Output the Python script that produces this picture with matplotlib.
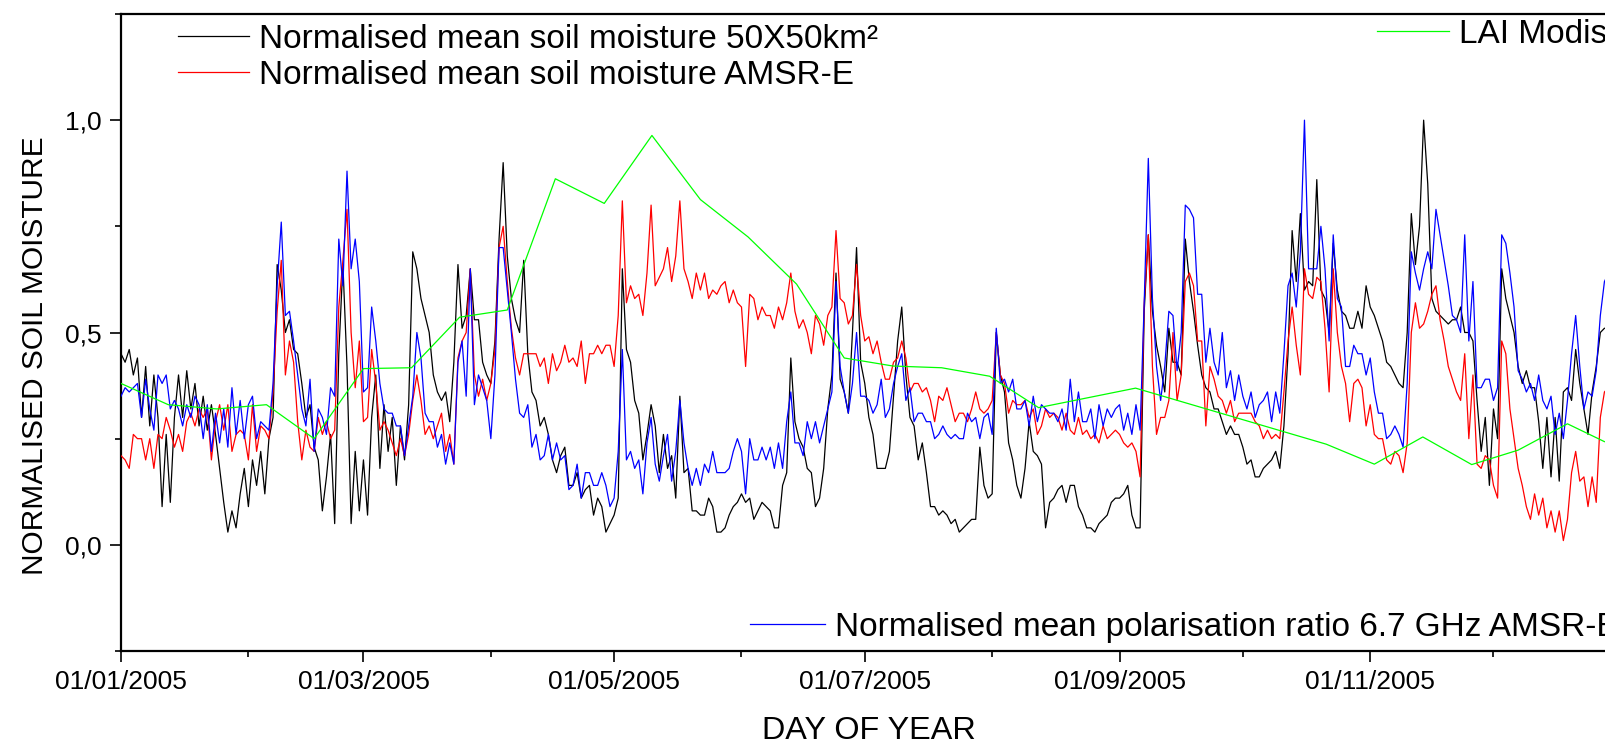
import numpy as np
import matplotlib
matplotlib.use("Agg")
import matplotlib.pyplot as plt
import matplotlib.dates as mdates
from matplotlib.lines import Line2D
from matplotlib.ticker import FixedLocator, FixedFormatter, MultipleLocator

plt.rcParams["font.family"] = ["Liberation Sans", "DejaVu Sans"]

START = np.datetime64("2005-01-01")

# normalised mean soil moisture 50x50 km, daily values from 01/01/2005
sm_50km = [
    0.45, 0.43, 0.46, 0.40, 0.44, 0.30, 0.42, 0.28, 0.40, 0.30,
    0.09, 0.26, 0.10, 0.30, 0.40, 0.30, 0.41, 0.32, 0.38, 0.28,
    0.35, 0.27, 0.33, 0.26, 0.18, 0.10, 0.03, 0.08, 0.04, 0.12,
    0.18, 0.09, 0.20, 0.14, 0.22, 0.12, 0.25, 0.30, 0.66, 0.60,
    0.50, 0.53, 0.46, 0.45, 0.38, 0.30, 0.33, 0.23, 0.20, 0.08,
    0.16, 0.26, 0.05, 0.45, 0.66, 0.42, 0.05, 0.22, 0.08, 0.20,
    0.07, 0.30, 0.40, 0.18, 0.33, 0.22, 0.30, 0.14, 0.28, 0.20,
    0.33, 0.69, 0.65, 0.58, 0.54, 0.50, 0.40, 0.36, 0.34, 0.36,
    0.29, 0.43, 0.66, 0.51, 0.54, 0.65, 0.53, 0.53, 0.43, 0.40,
    0.38, 0.48, 0.72, 0.90, 0.68, 0.58, 0.53, 0.50, 0.67, 0.45,
    0.36, 0.34, 0.28, 0.30, 0.26, 0.20, 0.17, 0.21, 0.23, 0.14,
    0.14, 0.17, 0.11, 0.13, 0.14, 0.07, 0.11, 0.09, 0.03, 0.05,
    0.07, 0.11, 0.65, 0.46, 0.43, 0.34, 0.31, 0.20, 0.26, 0.33,
    0.28, 0.17, 0.26, 0.18, 0.21, 0.11, 0.35, 0.17, 0.18, 0.08,
    0.08, 0.07, 0.07, 0.11, 0.09, 0.03, 0.03, 0.04, 0.07, 0.09,
    0.10, 0.12, 0.10, 0.11, 0.06, 0.08, 0.10, 0.09, 0.08, 0.04,
    0.04, 0.14, 0.17, 0.44, 0.29, 0.25, 0.23, 0.18, 0.17, 0.09,
    0.11, 0.18, 0.32, 0.40, 0.64, 0.39, 0.36, 0.31, 0.50, 0.70,
    0.43, 0.38, 0.30, 0.26, 0.18, 0.18, 0.18, 0.22, 0.35, 0.48,
    0.56, 0.40, 0.30, 0.28, 0.20, 0.24, 0.17, 0.09, 0.09, 0.07,
    0.08, 0.07, 0.05, 0.06, 0.03, 0.04, 0.05, 0.06, 0.06, 0.23,
    0.14, 0.11, 0.12, 0.50, 0.40, 0.36, 0.24, 0.20, 0.14, 0.11,
    0.18, 0.29, 0.22, 0.21, 0.19, 0.04, 0.10, 0.11, 0.13, 0.14,
    0.10, 0.14, 0.14, 0.09, 0.07, 0.04, 0.04, 0.03, 0.05, 0.06,
    0.07, 0.10, 0.11, 0.11, 0.12, 0.14, 0.07, 0.04, 0.04, 0.55,
    0.73, 0.55, 0.47, 0.42, 0.36, 0.51, 0.43, 0.43, 0.40, 0.72,
    0.62, 0.55, 0.47, 0.40, 0.37, 0.36, 0.32, 0.32, 0.29, 0.26,
    0.28, 0.26, 0.26, 0.23, 0.19, 0.20, 0.16, 0.16, 0.18, 0.19,
    0.20, 0.22, 0.18, 0.28, 0.45, 0.74, 0.62, 0.78, 0.60, 0.62,
    0.61, 0.86, 0.60, 0.58, 0.50, 0.71, 0.60, 0.55, 0.54, 0.51,
    0.51, 0.55, 0.51, 0.61, 0.56, 0.54, 0.51, 0.48, 0.43, 0.42,
    0.40, 0.38, 0.37, 0.50, 0.78, 0.66, 0.75, 1.00, 0.85, 0.58,
    0.55, 0.54, 0.53, 0.52, 0.53, 0.53, 0.56, 0.50, 0.50, 0.48,
    0.34, 0.22, 0.30, 0.14, 0.32, 0.25, 0.65, 0.58, 0.54, 0.50,
    0.42, 0.38, 0.41, 0.37, 0.37, 0.29, 0.18, 0.30, 0.16, 0.30,
    0.15, 0.36, 0.37, 0.34, 0.46, 0.38, 0.32, 0.26, 0.36, 0.42,
    0.50, 0.51, 0.51,
]

# normalised mean soil moisture AMSR-E, daily
sm_amsre = [
    0.21, 0.20, 0.18, 0.26, 0.25, 0.25, 0.20, 0.25, 0.18, 0.26,
    0.25, 0.30, 0.27, 0.23, 0.26, 0.22, 0.29, 0.31, 0.28, 0.32,
    0.30, 0.32, 0.20, 0.29, 0.33, 0.27, 0.33, 0.22, 0.26, 0.27,
    0.26, 0.20, 0.33, 0.22, 0.28, 0.27, 0.25, 0.36, 0.55, 0.67,
    0.40, 0.48, 0.43, 0.29, 0.20, 0.27, 0.23, 0.22, 0.30, 0.26,
    0.29, 0.25, 0.27, 0.56, 0.67, 0.79, 0.50, 0.37, 0.48, 0.29,
    0.30, 0.46, 0.38, 0.27, 0.29, 0.27, 0.24, 0.21, 0.25, 0.21,
    0.26, 0.34, 0.40, 0.34, 0.26, 0.28, 0.25, 0.28, 0.31, 0.22,
    0.26, 0.19, 0.44, 0.48, 0.50, 0.65, 0.40, 0.35, 0.39, 0.34,
    0.38, 0.46, 0.70, 0.75, 0.62, 0.51, 0.44, 0.40, 0.45, 0.45,
    0.45, 0.45, 0.42, 0.44, 0.38, 0.45, 0.41, 0.43, 0.47, 0.43,
    0.44, 0.42, 0.48, 0.38, 0.45, 0.45, 0.47, 0.45, 0.47, 0.47,
    0.42, 0.54, 0.81, 0.57, 0.61, 0.58, 0.59, 0.54, 0.64, 0.80,
    0.61, 0.63, 0.65, 0.70, 0.62, 0.68, 0.81, 0.65, 0.62, 0.58,
    0.64, 0.60, 0.64, 0.58, 0.60, 0.59, 0.61, 0.62, 0.57, 0.60,
    0.57, 0.56, 0.42, 0.59, 0.58, 0.53, 0.56, 0.54, 0.54, 0.51,
    0.56, 0.53, 0.57, 0.64, 0.55, 0.51, 0.53, 0.50, 0.45, 0.54,
    0.52, 0.47, 0.54, 0.56, 0.74, 0.58, 0.57, 0.52, 0.54, 0.66,
    0.54, 0.48, 0.49, 0.45, 0.48, 0.43, 0.39, 0.39, 0.43, 0.44,
    0.48, 0.44, 0.36, 0.38, 0.38, 0.36, 0.37, 0.34, 0.29, 0.35,
    0.34, 0.37, 0.33, 0.29, 0.31, 0.31, 0.29, 0.32, 0.36, 0.32,
    0.31, 0.32, 0.34, 0.50, 0.40, 0.38, 0.31, 0.34, 0.33, 0.33,
    0.34, 0.30, 0.32, 0.26, 0.28, 0.32, 0.30, 0.31, 0.30, 0.27,
    0.31, 0.27, 0.26, 0.30, 0.26, 0.27, 0.25, 0.26, 0.24, 0.28,
    0.25, 0.26, 0.27, 0.26, 0.24, 0.23, 0.24, 0.22, 0.16, 0.57,
    0.73, 0.42, 0.26, 0.30, 0.30, 0.34, 0.50, 0.34, 0.40, 0.62,
    0.64, 0.61, 0.48, 0.48, 0.28, 0.42, 0.39, 0.35, 0.34, 0.31,
    0.34, 0.29, 0.31, 0.31, 0.31, 0.31, 0.29, 0.28, 0.25, 0.27,
    0.25, 0.26, 0.25, 0.36, 0.48, 0.56, 0.47, 0.40, 0.65, 0.59,
    0.58, 0.63, 0.62, 0.51, 0.36, 0.65, 0.50, 0.42, 0.38, 0.29,
    0.38, 0.39, 0.37, 0.28, 0.33, 0.26, 0.25, 0.25, 0.20, 0.19,
    0.22, 0.21, 0.17, 0.24, 0.50, 0.57, 0.51, 0.52, 0.55, 0.59,
    0.61, 0.53, 0.48, 0.42, 0.39, 0.36, 0.34, 0.45, 0.25, 0.40,
    0.19, 0.18, 0.21, 0.20, 0.14, 0.11, 0.48, 0.45, 0.32, 0.25,
    0.18, 0.14, 0.09, 0.06, 0.12, 0.07, 0.11, 0.04, 0.08, 0.03,
    0.08, 0.01, 0.06, 0.17, 0.22, 0.15, 0.16, 0.09, 0.16, 0.10,
    0.30, 0.36, 0.37,
]

# normalised mean polarisation ratio 6.7 GHz AMSR-E, daily
pr_amsre = [
    0.35, 0.37, 0.36, 0.37, 0.38, 0.30, 0.39, 0.32, 0.27, 0.40,
    0.38, 0.40, 0.32, 0.34, 0.32, 0.28, 0.33, 0.30, 0.35, 0.33,
    0.25, 0.33, 0.22, 0.31, 0.24, 0.32, 0.23, 0.37, 0.26, 0.34,
    0.25, 0.33, 0.35, 0.25, 0.29, 0.28, 0.27, 0.38, 0.61, 0.76,
    0.54, 0.55, 0.48, 0.40, 0.32, 0.28, 0.39, 0.22, 0.32, 0.30,
    0.26, 0.37, 0.35, 0.72, 0.61, 0.88, 0.65, 0.72, 0.62, 0.36,
    0.37, 0.56, 0.48, 0.38, 0.32, 0.31, 0.31, 0.28, 0.28, 0.21,
    0.28, 0.35, 0.50, 0.44, 0.31, 0.29, 0.29, 0.23, 0.26, 0.19,
    0.24, 0.19, 0.43, 0.48, 0.35, 0.65, 0.33, 0.40, 0.37, 0.34,
    0.25, 0.40, 0.70, 0.70, 0.60, 0.50, 0.39, 0.31, 0.30, 0.33,
    0.23, 0.26, 0.20, 0.21, 0.26, 0.20, 0.24, 0.20, 0.21, 0.13,
    0.14, 0.19, 0.11, 0.17, 0.17, 0.14, 0.14, 0.17, 0.14, 0.09,
    0.11, 0.22, 0.46, 0.20, 0.22, 0.18, 0.20, 0.12, 0.24, 0.30,
    0.19, 0.15, 0.21, 0.26, 0.15, 0.22, 0.34, 0.24, 0.18, 0.14,
    0.18, 0.14, 0.19, 0.17, 0.22, 0.17, 0.17, 0.17, 0.18, 0.22,
    0.25, 0.22, 0.12, 0.25, 0.20, 0.20, 0.23, 0.20, 0.23, 0.18,
    0.24, 0.18, 0.29, 0.36, 0.24, 0.24, 0.21, 0.29, 0.25, 0.29,
    0.24, 0.28, 0.32, 0.36, 0.62, 0.42, 0.36, 0.31, 0.38, 0.50,
    0.35, 0.35, 0.34, 0.31, 0.33, 0.39, 0.30, 0.32, 0.38, 0.42,
    0.45, 0.34, 0.37, 0.29, 0.31, 0.31, 0.29, 0.29, 0.25, 0.26,
    0.28, 0.26, 0.25, 0.26, 0.25, 0.25, 0.31, 0.29, 0.30, 0.25,
    0.30, 0.31, 0.26, 0.51, 0.38, 0.39, 0.36, 0.39, 0.32, 0.32,
    0.34, 0.28, 0.35, 0.29, 0.33, 0.32, 0.31, 0.31, 0.29, 0.32,
    0.27, 0.39, 0.29, 0.36, 0.29, 0.29, 0.32, 0.25, 0.33, 0.28,
    0.32, 0.30, 0.32, 0.33, 0.27, 0.31, 0.26, 0.33, 0.27, 0.57,
    0.91, 0.58, 0.42, 0.34, 0.42, 0.55, 0.54, 0.41, 0.50, 0.80,
    0.79, 0.77, 0.59, 0.59, 0.43, 0.51, 0.43, 0.40, 0.50, 0.37,
    0.41, 0.34, 0.40, 0.35, 0.32, 0.36, 0.30, 0.33, 0.34, 0.36,
    0.29, 0.36, 0.31, 0.45, 0.61, 0.64, 0.56, 0.69, 1.00, 0.65,
    0.65, 0.65, 0.75, 0.65, 0.48, 0.73, 0.58, 0.56, 0.42, 0.42,
    0.47, 0.45, 0.45, 0.40, 0.44, 0.36, 0.31, 0.31, 0.25, 0.26,
    0.28, 0.26, 0.23, 0.38, 0.69, 0.64, 0.60, 0.65, 0.69, 0.65,
    0.79, 0.73, 0.67, 0.61, 0.54, 0.53, 0.50, 0.73, 0.48, 0.62,
    0.37, 0.37, 0.39, 0.39, 0.34, 0.37, 0.73, 0.71, 0.64, 0.56,
    0.41, 0.39, 0.36, 0.38, 0.34, 0.40, 0.34, 0.32, 0.35, 0.26,
    0.31, 0.25, 0.34, 0.45, 0.54, 0.42, 0.32, 0.36, 0.35, 0.41,
    0.54, 0.62, 0.64,
]

# LAI Modis composites: day of year (from 01/01/2005) and value
lai_day = [0.0, 11.5, 23.3, 35.4, 47.0, 59.0, 70.7, 82.4, 94.0, 105.7,
           117.6, 129.2, 141.0, 152.6, 164.4, 176.0, 187.9, 199.7, 211.4,
           223.3, 246.9, 293.3, 305.0, 316.8, 328.7, 340.0, 352.0, 361.0]
lai_modis = [0.38, 0.33, 0.32, 0.33, 0.25, 0.415, 0.417, 0.536, 0.553, 0.862,
             0.804, 0.964, 0.813, 0.725, 0.614, 0.44, 0.421, 0.417, 0.397,
             0.323, 0.369, 0.237, 0.19, 0.254, 0.189, 0.223, 0.285, 0.243]

W, H = 1606, 744
fig = plt.figure(figsize=(W / 100, H / 100), dpi=100)
# the plot runs past the right edge of the picture, as in the original
ax = fig.add_axes([121 / W, 93 / H, 1497 / W, 637 / H])

t0 = mdates.date2num(START)


def daily(values):
    return t0 + np.arange(len(values))


ax.plot(daily(sm_50km), sm_50km, color="black", lw=0.9, zorder=2)
ax.plot(daily(sm_amsre), sm_amsre, color="red", lw=0.9, zorder=3)
ax.plot(daily(pr_amsre), pr_amsre, color="blue", lw=0.9, zorder=4)
ax.plot(t0 + np.array(lai_day), lai_modis, color="#00ff00", lw=0.9, zorder=5)

# axis ends on 31/12/2005, so no tick for the next year
ax.set_xlim(t0, t0 + 364.3)
ax.set_ylim(-0.25, 1.25)

ax.xaxis.set_major_locator(mdates.MonthLocator(bymonth=[1, 3, 5, 7, 9, 11]))
ax.xaxis.set_minor_locator(mdates.MonthLocator(bymonth=[2, 4, 6, 8, 10, 12]))
ax.xaxis.set_major_formatter(mdates.DateFormatter("%d/%m/%Y"))
ax.yaxis.set_major_locator(FixedLocator([0.0, 0.5, 1.0]))
ax.yaxis.set_major_formatter(FixedFormatter(["0,0", "0,5", "1,0"]))
ax.yaxis.set_minor_locator(MultipleLocator(0.25))

ax.tick_params(which="major", direction="out", length=8, width=1.2,
               labelsize=19, pad=6)
ax.tick_params(which="minor", direction="out", length=4, width=1.2)
for side in ["left", "bottom", "top", "right"]:
    ax.spines[side].set_linewidth(1.6)

fig.text(869 / W, 1 - 739 / H, "DAY OF YEAR", fontsize=23.3,
         ha="center", va="baseline")
fig.text(35 / W, 1 - 356 / H, "NORMALISED SOIL MOISTURE", fontsize=21.5,
         rotation=90, ha="center", va="center")


def legend_entry(x0, x1, y, color, label):
    fig.add_artist(Line2D([x0 / W, x1 / W], [1 - y / H, 1 - y / H],
                          color=color, lw=0.9, transform=fig.transFigure))
    fig.text((x1 + 10) / W, 1 - (y + 12) / H, label, fontsize=24,
             ha="left", va="baseline")


legend_entry(178, 249, 36, "black", "Normalised mean soil moisture 50X50km²")
legend_entry(178, 249, 72, "red", "Normalised mean soil moisture AMSR-E")
legend_entry(1377, 1449, 31, "#00ff00", "LAI Modis")
legend_entry(750, 825, 624, "blue",
             "Normalised mean polarisation ratio 6.7 GHz AMSR-E")

fig.savefig("out.png", dpi=100)
